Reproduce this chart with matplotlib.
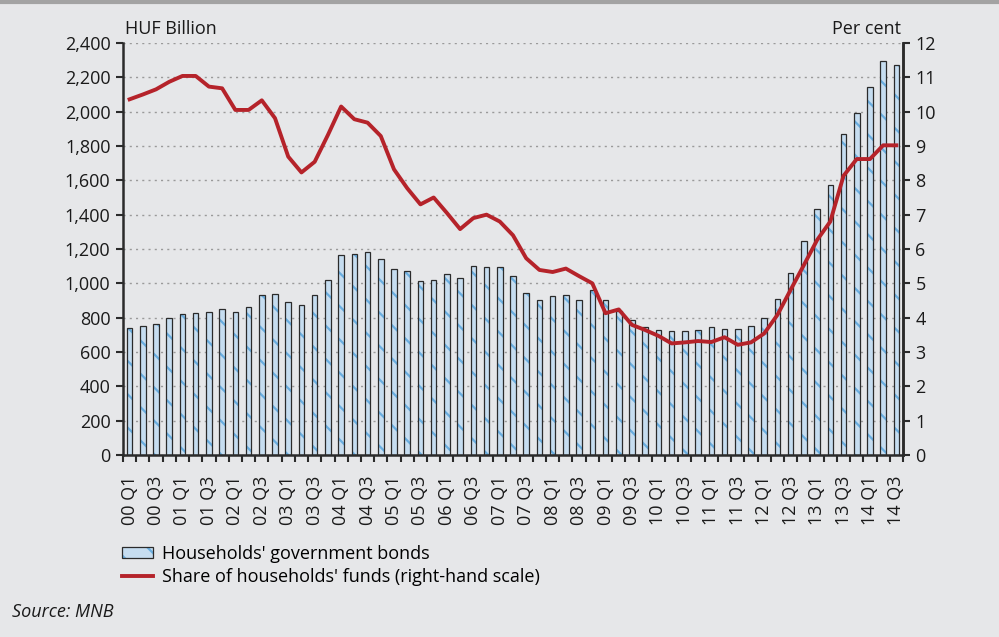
import matplotlib
matplotlib.use('Agg')
import matplotlib.pyplot as plt
from matplotlib.lines import Line2D
from matplotlib.patches import Patch
import numpy as np

plt.rcParams['font.family'] = ['Open Sans', 'DejaVu Sans']
plt.rcParams['hatch.linewidth'] = 1.6

quarters = [f'{y:02d} Q{q}' for y in range(0, 15) for q in range(1, 5)][:59]

bonds = [742, 750, 763, 798, 819, 825, 833, 849, 835, 860,
         930, 938, 891, 876, 930, 1021, 1163, 1169, 1183, 1142,
         1085, 1072, 1016, 1021, 1052, 1029, 1099, 1093, 1093, 1043,
         946, 903, 924, 930, 903, 959, 903, 840, 786, 744,
         730, 722, 722, 730, 744, 736, 736, 750, 798, 911,
         1058, 1247, 1435, 1575, 1868, 1990, 2142, 2297, 2270]

share = [10.36, 10.50, 10.65, 10.87, 11.04, 11.04, 10.73, 10.68, 10.05, 10.05,
         10.33, 9.81, 8.69, 8.23, 8.54, 9.32, 10.15, 9.78, 9.68, 9.29,
         8.32, 7.77, 7.30, 7.50, 7.05, 6.58, 6.90, 7.00, 6.80, 6.40,
         5.73, 5.39, 5.33, 5.43, 5.21, 5.00, 4.13, 4.24, 3.79, 3.64,
         3.47, 3.25, 3.28, 3.32, 3.29, 3.43, 3.21, 3.28, 3.54, 4.08,
         4.81, 5.53, 6.26, 6.80, 8.13, 8.62, 8.62, 9.02, 9.02]

bg = '#e6e7e9'
red = '#b5232a'
fill = '#c6ddf0'
hatch_col = '#6aaee0'
edge = '#2b2b2b'
txt = '#1a1a1a'
fs = 13

x = np.arange(len(bonds))

fig = plt.figure(figsize=(9.99, 6.37), dpi=100)
fig.patch.set_facecolor(bg)
ax = fig.add_axes([0.1231, 0.2857, 0.7808, 0.6468])
ax.set_facecolor(bg)

# bars: hatched fill first, then the outline on top
ax.bar(x, bonds, width=0.42, color=fill, edgecolor=hatch_col, linewidth=0,
       hatch='\\', zorder=2)
ax.bar(x, bonds, width=0.42, color='none', edgecolor=edge, linewidth=0.9, zorder=3)

ax.set_xlim(-0.5, len(bonds) - 0.5)
ax.set_ylim(0, 2400)
ax.set_yticks(range(0, 2401, 200))
ax.set_yticklabels([f'{v:,}' for v in range(0, 2401, 200)])
ax.yaxis.grid(True, linestyle=(0, (1.5, 3)), color='#9a9a9a', linewidth=1.0)
ax.set_axisbelow(True)

ax.set_xticks(x[::2])
ax.set_xticklabels(quarters[::2], rotation=90)
ax.set_xticks(np.arange(-0.5, len(bonds)), minor=True)
ax.tick_params(axis='x', which='major', length=0, pad=15, labelsize=fs, colors=txt)
ax.tick_params(axis='x', which='minor', length=5, width=1.5, color=edge, direction='out')
ax.tick_params(axis='y', length=5, width=1.5, color=edge, labelsize=fs, labelcolor=txt, pad=4)

ax.spines['top'].set_visible(False)
for s in ['left', 'right', 'bottom']:
    ax.spines[s].set_linewidth(1.8)
    ax.spines[s].set_color(edge)

ax2 = ax.twinx()
ax2.plot(x, share, color=red, linewidth=2.8, zorder=5)
ax2.set_ylim(0, 12)
ax2.set_yticks(range(0, 13))
ax2.tick_params(axis='y', length=5, width=1.5, color=edge, labelsize=fs, labelcolor=txt, pad=4)
for s in ['top', 'left', 'bottom']:
    ax2.spines[s].set_visible(False)
ax2.spines['right'].set_linewidth(1.8)
ax2.spines['right'].set_color(edge)

fig.text(0.125, 0.94, 'HUF Billion', fontsize=fs, color=txt, ha='left', va='bottom')
fig.text(0.902, 0.94, 'Per cent', fontsize=fs, color=txt, ha='right', va='bottom')

bar_handle = (Patch(facecolor=fill, edgecolor=hatch_col, hatch='\\', linewidth=0),
              Patch(facecolor='none', edgecolor=edge, linewidth=0.9))
handles = [bar_handle, Line2D([0], [0], color=red, linewidth=2.8)]
labels = ["Households' government bonds", "Share of households' funds (right-hand scale)"]
fig.legend(handles, labels, loc='upper left', bbox_to_anchor=(0.122, 0.145),
           frameon=False, fontsize=fs, handlelength=1.75, handleheight=0.6,
           handletextpad=0.45, labelspacing=0.3, borderaxespad=0, borderpad=0)

fig.text(0.012, 0.040, 'Source: MNB', fontsize=fs, style='italic', color=txt,
         ha='left', va='center')

# grey rule along the top edge
fig.add_artist(Line2D([0, 1], [0.997, 0.997], transform=fig.transFigure,
                      color='#a3a3a3', linewidth=3))

fig.savefig('out.png', dpi=100, facecolor=bg)
